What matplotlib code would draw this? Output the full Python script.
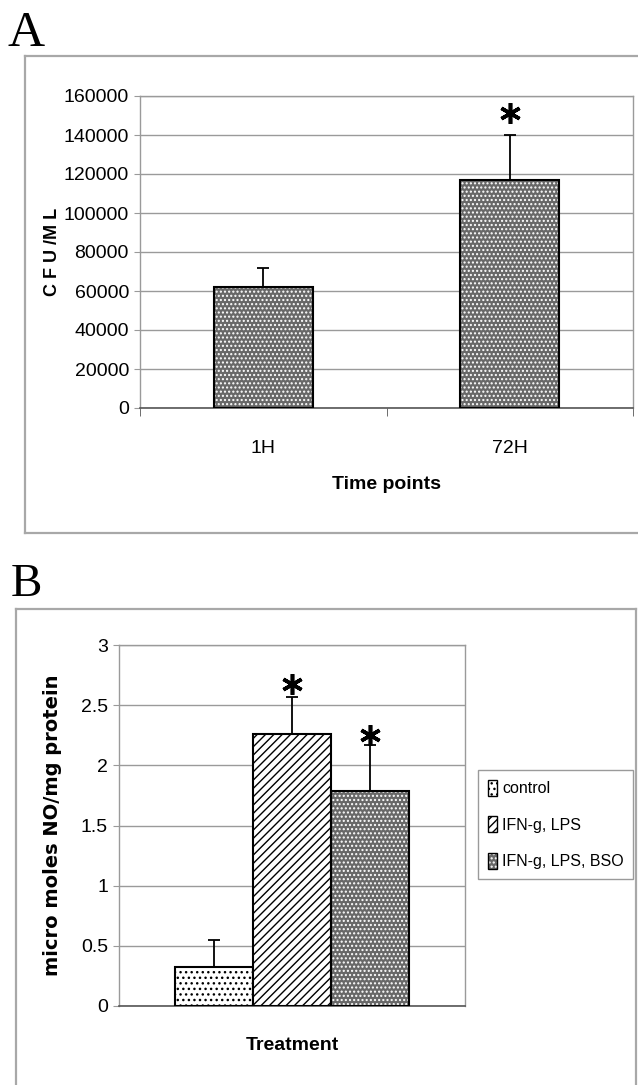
import numpy as np
import matplotlib
matplotlib.use("Agg")
import matplotlib.pyplot as plt
from matplotlib.patches import Patch
from matplotlib.lines import Line2D
from matplotlib.legend_handler import HandlerTuple

# panel A data
timeLabels = ["1H", "72H"]
cfuMeans = [62000, 117000]
cfuErrors = [10000, 23000]
cfuStars = [None, 151500]

# panel B data
treatLabels = ["control", "IFN-g, LPS", "IFN-g, LPS, BSO"]
noMeans = [0.32, 2.26, 1.79]
noErrors = [0.23, 0.31, 0.38]
noStars = [None, 2.68, 2.25]

narrow = ["Liberation Sans Narrow", "Liberation Sans", "DejaVu Sans"]
gridGray = "#9a9a9a"
dotGray = "#686868"

plt.rcParams["hatch.linewidth"] = 1.0

fig = plt.figure(figsize=(6.38, 10.85), dpi=100)


def px(x, y):
    # pixel coords (top-left origin) -> figure fraction
    return x / 638.0, 1 - y / 1085.0


def frameLines(left, top, right, bottom, sides):
    for s in sides:
        if s == "l":
            xs, ys = [left, left], [top, bottom]
        elif s == "t":
            xs, ys = [left, right], [top, top]
        elif s == "r":
            xs, ys = [right, right], [top, bottom]
        else:
            xs, ys = [left, right], [bottom, bottom]
        fx = [x / 638.0 for x in xs]
        fy = [1 - y / 1085.0 for y in ys]
        fig.add_artist(Line2D(fx, fy, color="#a8a8a8", lw=1.6))


def dottedBar(ax, x, h, w):
    # gray fill with white dot grid, then black outline
    ax.bar(x, h, w, color=dotGray, edgecolor="white", hatch="....", lw=0, zorder=2)
    ax.bar(x, h, w, fill=False, edgecolor="black", lw=1.5, zorder=3)


def styleAxes(ax):
    for s in ["top", "right", "left"]:
        ax.spines[s].set_color(gridGray)
        ax.spines[s].set_linewidth(1.0)
    ax.spines["bottom"].set_color("#555555")
    ax.spines["bottom"].set_linewidth(1.2)
    ax.yaxis.grid(True, color=gridGray, lw=1.0)
    ax.set_axisbelow(True)
    ax.tick_params(axis="y", length=4, color=gridGray, labelsize=14, pad=4)
    for t in ax.get_yticklabels():
        t.set_family(narrow)


def stars(ax, xs, ys):
    for x, y in zip(xs, ys):
        if y is not None:
            ax.plot(x, y, marker=(6, 2, 0), ms=15, mew=2.6, color="black",
                    zorder=5, clip_on=False)


# ---------------- panel A ----------------
fig.text(*px(7, 46), "A", family="Liberation Serif", fontsize=37, va="baseline")
frameLines(25, 56, 640, 533, "ltb")

axA = fig.add_axes([140 / 638, 1 - 408 / 1085, 493 / 638, 312 / 1085])
xa = np.arange(len(timeLabels))
for i in range(len(xa)):
    dottedBar(axA, xa[i], cfuMeans[i], 0.4)
axA.errorbar(xa, cfuMeans, yerr=[np.zeros(len(xa)), cfuErrors], fmt="none",
             ecolor="black", elinewidth=1.3, capsize=4, capthick=1.3, zorder=4)
stars(axA, xa, cfuStars)
axA.set_xlim(-0.5, 1.5)
axA.set_ylim(0, 160000)
axA.set_yticks(np.arange(0, 160001, 20000))
axA.set_xticks(xa)
axA.set_xticklabels(timeLabels, family=narrow, fontsize=14)
axA.set_xticks([-0.5, 0.5, 1.5], minor=True)
axA.tick_params(axis="x", which="major", length=0, pad=23)
axA.tick_params(axis="x", which="minor", length=6, color="#555555")
styleAxes(axA)
axA.set_ylabel("C F U /M L", fontsize=13, fontweight="bold", family="Liberation Sans")
axA.yaxis.set_label_coords(-0.16, 0.5)
axA.set_xlabel("Time points", fontsize=14, fontweight="bold", family=narrow, labelpad=14)

# ---------------- panel B ----------------
fig.text(*px(11, 596), "B", family="Liberation Serif", fontsize=34, va="baseline")
frameLines(16, 609, 636, 1090, "ltr")

axB = fig.add_axes([119 / 638, 1 - 1006 / 1085, 346 / 638, 361 / 1085])
bw = 0.225
xb = (np.arange(len(treatLabels)) - 1) * bw
axB.bar(xb[0], noMeans[0], bw, color="white", edgecolor="black", hatch="...", lw=1.5, zorder=3)
axB.bar(xb[1], noMeans[1], bw, color="white", edgecolor="black", hatch="////", lw=1.5, zorder=3)
dottedBar(axB, xb[2], noMeans[2], bw)
axB.errorbar(xb, noMeans, yerr=[np.zeros(len(xb)), noErrors], fmt="none",
             ecolor="black", elinewidth=1.3, capsize=4, capthick=1.3, zorder=4)
stars(axB, xb, noStars)
axB.set_xlim(-0.5, 0.5)
axB.set_ylim(0, 3)
axB.set_yticks(np.arange(0, 3.01, 0.5))
axB.set_yticklabels(["0", "0.5", "1", "1.5", "2", "2.5", "3"])
axB.set_xticks([])
styleAxes(axB)
axB.set_ylabel("micro moles NO/mg protein", fontsize=14, fontweight="bold",
               family="DejaVu Sans")
axB.yaxis.set_label_coords(-0.165, 0.5)
axB.set_xlabel("Treatment", fontsize=14, fontweight="bold", family=narrow, labelpad=22)

hControl = Patch(facecolor="white", edgecolor="black", hatch="...", lw=1)
hIfn = Patch(facecolor="white", edgecolor="black", hatch="////", lw=1)
hBso = (Patch(facecolor=dotGray, edgecolor="white", hatch="....", lw=0),
        Patch(fill=False, edgecolor="black", lw=1))
leg = fig.legend([hControl, hIfn, hBso], treatLabels,
                 handler_map={tuple: HandlerTuple(ndivide=1)},
                 loc="upper left", bbox_to_anchor=px(478, 770), borderaxespad=0,
                 prop={"family": narrow, "size": 11.5},
                 handlelength=0.6, handleheight=1.2, handletextpad=0.3,
                 labelspacing=1.25, borderpad=0.6, fancybox=False,
                 edgecolor=gridGray, framealpha=1)
leg.get_frame().set_linewidth(1.0)

plt.savefig("out.png", dpi=100, facecolor="w")
